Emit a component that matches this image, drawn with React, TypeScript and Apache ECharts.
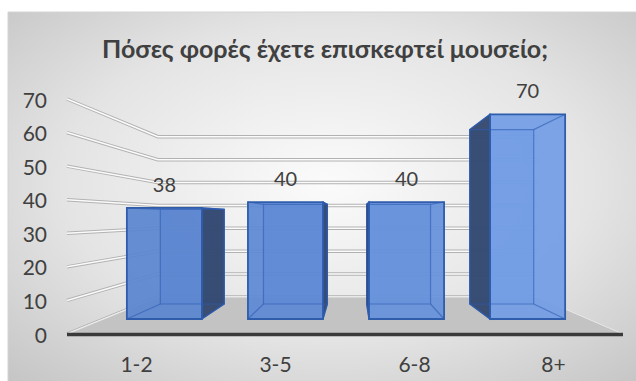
import React, { useEffect, useRef } from "react";
import * as echarts from "echarts";

const TITLE = "Πόσες φορές έχετε επισκεφτεί μουσείο;";
const categories = ["1-2", "3-5", "6-8", "8+"];
const values = [38, 40, 40, 70];
const yTicks = [0, 10, 20, 30, 40, 50, 60, 70];

const FONT = "Lato, 'Noto Sans', 'DejaVu Sans', sans-serif";
const TEXT = "#404040";
// perspective depth factors (1 = front axis plane)
const S_FRONT = 0.871;
const S_BACK = 0.742;
const S_WALL = 0.682;

function vanish(cs: any): number[] {
  return [cs.x + cs.width * 0.514, cs.y + cs.height * 0.505];
}
function proj(v: number[], X: number, Y: number, s: number): number[] {
  return [v[0] + s * (X - v[0]), v[1] + s * (Y - v[1])];
}
function hex(c: string): number[] {
  return [1, 3, 5].map((k) => parseInt(c.slice(k, k + 2), 16));
}
function lerpColor(a: string, b: string, t: number): string {
  const A = hex(a), B = hex(b);
  const r = A.map((x, k) => Math.round(x + (B[k] - x) * t));
  return `rgb(${r[0]},${r[1]},${r[2]})`;
}

export default function App() {
  const ref = useRef<HTMLDivElement>(null);
  useEffect(() => {
    if (!ref.current) return;
    const chart = echarts.init(ref.current, undefined, { renderer: "svg" });
    const option: any = {
      animation: false,
      backgroundColor: "#ffffff",
      graphic: [
        {
          type: "rect",
          z: -100,
          silent: true,
          shape: { x: 8, y: 12, width: 640, height: 380 },
          style: {
            fill: new echarts.graphic.RadialGradient(0.5, 0.45, 0.75, [
              { offset: 0, color: "#fbfbfb" },
              { offset: 0.55, color: "#e4e4e4" },
              { offset: 1, color: "#c2c2c2" },
            ]),
            stroke: "#d4d4d4",
            lineWidth: 1,
          },
        },
      ],
      title: {
        text: TITLE,
        left: 325,
        textAlign: "center",
        top: 35,
        padding: 0,
        textStyle: { fontSize: 25, fontWeight: "bold", color: TEXT, fontFamily: FONT },
      },
      grid: { left: 67, right: 13, top: 99, bottom: 47 },
      xAxis: {
        type: "category",
        data: categories,
        axisLine: { show: false },
        axisTick: { show: false },
        axisLabel: { fontSize: 21, color: TEXT, fontFamily: FONT, margin: 19 },
      },
      yAxis: {
        type: "value",
        min: 0,
        max: 70,
        interval: 10,
        axisLine: { show: false },
        axisTick: { show: false },
        splitLine: { show: false },
        axisLabel: { fontSize: 21, color: TEXT, fontFamily: FONT, margin: 20 },
      },
      series: [
        {
          type: "custom",
          name: "walls",
          z: 1,
          silent: true,
          data: yTicks.map((t) => [0, t]),
          renderItem: (params: any, api: any) => {
            const cs = params.coordSys;
            const v = vanish(cs);
            const Y = api.coord([0, api.value(1)])[1];
            const xl = cs.x, xr = cs.x + cs.width;
            const pts = [[xl, Y], proj(v, xl, Y, S_WALL), proj(v, xr, Y, S_WALL)];
            return {
              type: "group",
              children: [
                { type: "polyline", shape: { points: pts }, style: { stroke: "#b2b2b2", lineWidth: 3.5, fill: null } },
                { type: "polyline", shape: { points: pts }, style: { stroke: "#fbfbfb", lineWidth: 1.5, fill: null } },
              ],
            };
          },
        },
        {
          type: "custom",
          name: "floor",
          z: 2,
          silent: true,
          data: [[0, 0]],
          renderItem: (params: any, api: any) => {
            const cs = params.coordSys;
            const v = vanish(cs);
            const Y0 = api.coord([0, api.value(1)])[1];
            const xl = cs.x, xr = cs.x + cs.width;
            const fl = [xl, Y0], fr = [xr, Y0];
            const br = proj(v, xr, Y0, S_WALL), bl = proj(v, xl, Y0, S_WALL);
            return {
              type: "group",
              children: [
                {
                  type: "polygon",
                  shape: { points: [fl, fr, br, bl] },
                  style: { fill: "#c3c3c3", stroke: "#e8e8e8", lineWidth: 1 },
                },
                {
                  type: "line",
                  shape: { x1: fl[0], y1: Y0 + 0.5, x2: fr[0], y2: Y0 + 0.5 },
                  style: { stroke: "#3a3a3a", lineWidth: 3.5 },
                },
              ],
            };
          },
        },
        {
          type: "custom",
          name: "bars",
          z: 3,
          data: values.map((val, i) => [i, val]),
          renderItem: (params: any, api: any) => {
            const cs = params.coordSys;
            const v = vanish(cs);
            const i = api.value(0);
            const val = api.value(1);
            const top = api.coord([i, val]);
            const X = top[0], Yt = top[1];
            const Yb = api.coord([i, 0])[1];
            const hw = api.size([1, 0])[0] * 0.31;
            const xl = X - hw, xr = X + hw;
            const F = (x: number, y: number) => proj(v, x, y, S_FRONT);
            const B = (x: number, y: number) => proj(v, x, y, S_BACK);
            const front = [F(xl, Yt), F(xr, Yt), F(xr, Yb), F(xl, Yb)];
            const back = [B(xl, Yt), B(xr, Yt), B(xr, Yb), B(xl, Yb)];
            const t = Math.pow((X - cs.x) / cs.width, 2);
            const faceColor = lerpColor("#5984d0", "#7aa4ea", t);
            const children: any[] = [];
            children.push({
              type: "polygon",
              shape: { points: back },
              style: { fill: faceColor, opacity: 0.6, stroke: null },
            });
            let side: number[][] | null = null;
            if (xr < v[0]) side = [front[1], back[1], back[2], front[2]];
            else if (xl > v[0]) side = [front[0], back[0], back[3], front[3]];
            if (side) {
              children.push({
                type: "polygon",
                shape: { points: side },
                style: { fill: "#33486f", stroke: "#2d5aa8", lineWidth: 1.2, opacity: 0.95 },
              });
            }
            children.push({
              type: "polygon",
              shape: { points: front },
              style: { fill: faceColor, opacity: 0.93, stroke: null },
            });
            const inner = "rgba(45,92,178,0.6)";
            children.push({
              type: "polygon",
              shape: { points: back },
              style: { fill: null, stroke: inner, lineWidth: 1.2 },
            });
            for (let k = 0; k < 4; k++) {
              children.push({
                type: "line",
                shape: { x1: front[k][0], y1: front[k][1], x2: back[k][0], y2: back[k][1] },
                style: { stroke: inner, lineWidth: 1.2 },
              });
            }
            children.push({
              type: "polygon",
              shape: { points: front },
              style: { fill: null, stroke: "#2f5cab", lineWidth: 1.8 },
            });
            children.push({
              type: "text",
              x: (front[0][0] + front[1][0]) / 2,
              y: front[0][1] - 24,
              style: {
                text: String(val),
                fill: TEXT,
                fontSize: 20,
                fontFamily: FONT,
                align: "center",
                verticalAlign: "middle",
              },
            });
            return { type: "group", children };
          },
        },
      ],
    };
    chart.setOption(option);
    return () => chart.dispose();
  }, []);
  return (
    <div
      ref={ref}
      style={{ position: "absolute", left: 0, top: 0, width: 636, height: 381 }}
    />
  );
}
